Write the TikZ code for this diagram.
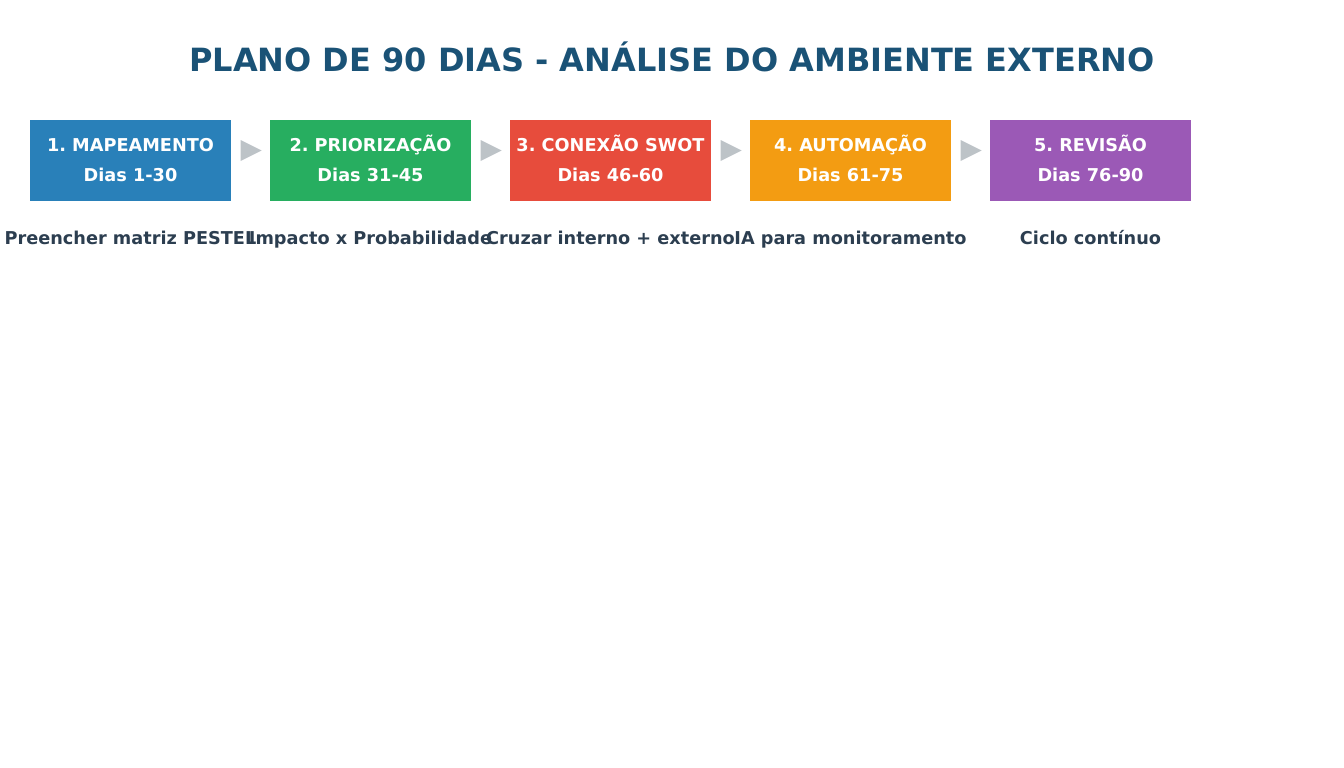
\documentclass[tikz,border=0pt]{standalone}
\usepackage{fontspec}
\setmainfont{DejaVu Sans}
\frenchspacing
\usepackage{tikz}
\usetikzlibrary{positioning}
\usetikzlibrary{shapes.geometric}
\usepackage{xcolor}
\definecolor{titleblue}{HTML}{1A5276}
\definecolor{labgray}{HTML}{2C3E50}
\definecolor{arrowgray}{HTML}{BDC3C7}
\definecolor{mapblue}{HTML}{2980B9}
\definecolor{priogreen}{HTML}{27AE60}
\definecolor{swotred}{HTML}{E74C3C}
\definecolor{autoorange}{HTML}{F39C12}
\definecolor{revpurple}{HTML}{9B59B6}

\begin{document}
\begin{tikzpicture}[x=1pt, y=-1pt, node distance=39pt,
  phase/.style = {minimum width=201pt, minimum height=81pt, inner sep=0pt, outer sep=0pt, text height=46pt, text depth=4pt, align=center, text=white, font=\bfseries\fontsize{17.7}{30}\selectfont},
  tri/.style = {isosceles triangle, isosceles triangle stretches, minimum width=21pt, minimum height=21pt, inner sep=0pt, fill=arrowgray, xshift=-3.5pt, yshift=10pt},
  lab/.style = {text=labgray, text height=13pt, text depth=4pt, font=\bfseries\fontsize{17.7}{20}\selectfont}]
\useasboundingbox (0,0) rectangle (1344,768);
\node[text=titleblue, text height=24pt, text depth=0pt, font=\bfseries\fontsize{32}{38}\selectfont] (title) at (672,59) {PLANO DE 90 DIAS - ANÁLISE DO AMBIENTE EXTERNO};
\node[phase, fill=mapblue] (1) at (130.5,160.5) {1. MAPEAMENTO\\Dias 1-30};
\node[phase, fill=priogreen] (2) [right=of 1] {2. PRIORIZAÇÃO\\Dias 31-45};
\node[phase, fill=swotred] (3) [right=of 2] {3. CONEXÃO SWOT\\Dias 46-60};
\node[phase, fill=autoorange] (4) [right=of 3] {4. AUTOMAÇÃO\\Dias 61-75};
\node[phase, fill=revpurple] (5) [right=of 4] {5. REVISÃO\\Dias 76-90};
\path (1) -- node[tri] {} (2);
\path (2) -- node[tri] {} (3);
\path (3) -- node[tri] {} (4);
\path (4) -- node[tri] {} (5);
\node[lab] (l1) at ([yshift=-38.5pt]1.south) {Preencher matriz PESTEL};
\node[lab] (l2) at ([yshift=-38.5pt]2.south) {Impacto x Probabilidade};
\node[lab] (l3) at ([yshift=-38.5pt]3.south) {Cruzar interno + externo};
\node[lab] (l4) at ([yshift=-38.5pt]4.south) {IA para monitoramento};
\node[lab] (l5) at ([yshift=-38.5pt]5.south) {Ciclo contínuo};
\end{tikzpicture}
\end{document}
